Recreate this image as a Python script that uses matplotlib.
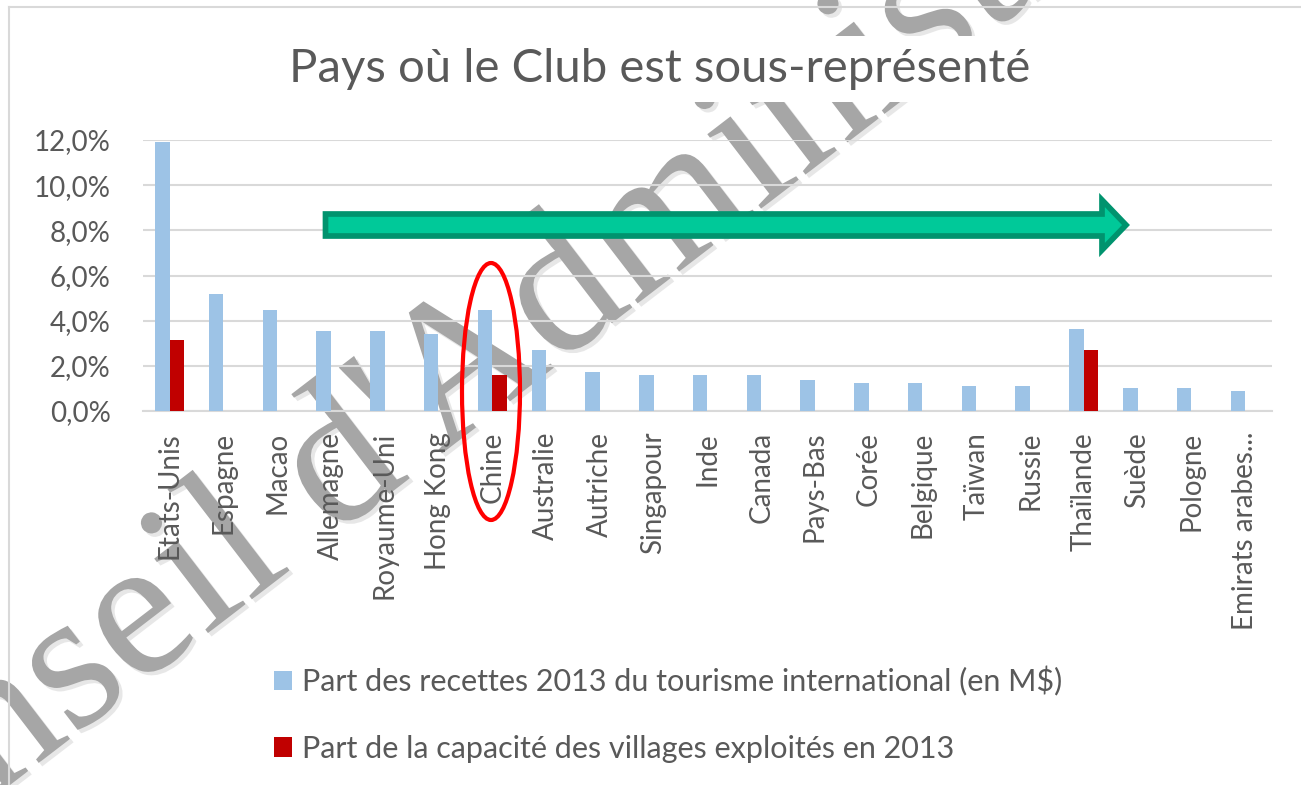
import matplotlib
matplotlib.use("Agg")
import matplotlib.pyplot as plt
import matplotlib.patches as mpatches
import matplotlib.patheffects as pe
from matplotlib.lines import Line2D
import numpy as np

# ---------------- data ----------------
categories = ['Etats-Unis', 'Espagne', 'Macao', 'Allemagne', 'Royaume-Uni', 'Hong Kong',
              'Chine', 'Australie', 'Autriche', 'Singapour', 'Inde', 'Canada', 'Pays-Bas',
              'Corée', 'Belgique', 'Taïwan', 'Russie', 'Thaïlande', 'Suède', 'Pologne',
              'Emirats arabes...']
recettes = [11.9, 5.2, 4.47, 3.53, 3.53, 3.4, 4.47, 2.69, 1.71, 1.59, 1.59, 1.59, 1.36,
            1.24, 1.24, 1.12, 1.12, 3.63, 1.0, 1.0, 0.88]
capacite = [3.15, 0, 0, 0, 0, 0, 1.59, 0, 0, 0, 0, 0, 0,
            0, 0, 0, 0, 2.69, 0, 0, 0]
ytick_values = [0, 2, 4, 6, 8, 10, 12]
ytick_labels = ['0,0%', '2,0%', '4,0%', '6,0%', '8,0%', '10,0%', '12,0%']
series_names = ['Part des recettes 2013 du tourisme international (en M$)',
                'Part de la capacité des villages exploités en 2013']
title = 'Pays où le Club est sous-représenté'
watermark = "Conseil d'Administration"

# ---------------- figure ----------------
W, H = 1301, 785
fig = plt.figure(figsize=(W / 100, H / 100), dpi=100)
fig.patch.set_facecolor('white')

def fx(px):
    return px / W

def fy(py):
    return 1 - py / H

TXT = '#595959'
FONT = 'Lato'

# watermark (background)
fig.text(fx(-192), fy(940), watermark, fontsize=144, family='Liberation Serif',
         color='#A6A6A6', rotation=37.5, rotation_mode='anchor', ha='left', va='baseline',
         zorder=-5,
         path_effects=[pe.SimplePatchShadow(offset=(2.5, -2.5), shadow_rgbFace='#d0d0d0', alpha=0.5),
                       pe.Normal()])

# chart border
fig.add_artist(Line2D([fx(9), fx(9)], [fy(7), 0], color='#D9D9D9', lw=1.5, zorder=1))
fig.add_artist(Line2D([fx(9), 1], [fy(7), fy(7)], color='#D9D9D9', lw=1.5, zorder=1))

ax_left, ax_right, ax_top, ax_bottom = 142.7, 1272, 140, 411
ax = fig.add_axes([fx(ax_left), fy(ax_bottom), fx(ax_right - ax_left), (ax_bottom - ax_top) / H])
ax.set_facecolor('none')

x = np.arange(len(categories))
bw = 0.27
b1 = ax.bar(x - bw / 2, recettes, width=bw, color='#9DC3E6', linewidth=0, zorder=3,
            label=series_names[0])
b2 = ax.bar(x + bw / 2, capacite, width=bw, color='#C00000', linewidth=0, zorder=3,
            label=series_names[1])

ax.set_xlim(-0.5, len(categories) - 0.5)
ax.set_ylim(0, 12)
ax.set_yticks(ytick_values)
ax.set_yticklabels(ytick_labels)
ax.set_xticks(x)
ax.set_xticklabels(categories, rotation=90, ha='center', va='top')
ax.tick_params(axis='both', length=0, colors=TXT)
ax.tick_params(axis='y', pad=23, labelsize=20)
ax.tick_params(axis='x', pad=15, labelsize=20)
for lab in ax.get_xticklabels() + ax.get_yticklabels():
    lab.set_fontfamily(FONT)
    lab.set_color(TXT)
for s in ['top', 'right', 'left']:
    ax.spines[s].set_visible(False)
ax.spines['bottom'].set_color('#D9D9D9')
ax.spines['bottom'].set_linewidth(1.5)
ax.grid(axis='y', color='#D9D9D9', linewidth=1.5, zorder=0)
ax.set_axisbelow(True)

# title
fig.text(fx(660), fy(82), title, ha='center', va='baseline', fontsize=34, color=TXT,
         family=FONT, zorder=5,
         bbox=dict(facecolor='white', edgecolor='none', pad=9))

# legend
leg = ax.legend(handles=[b1, b2], loc='upper left', bbox_to_anchor=(fx(274), fy(666)),
                bbox_transform=fig.transFigure, frameon=False, borderpad=0, borderaxespad=0,
                handlelength=0.6, handleheight=0.6, handletextpad=0.3, labelspacing=1.27,
                prop={'family': FONT, 'size': 22})
for t in leg.get_texts():
    t.set_color(TXT)

# green arrow
arrow_pts = [(325.5, 214), (1102, 214), (1102, 200), (1126, 225), (1102, 250),
             (1102, 236), (325.5, 236)]
arrow = mpatches.Polygon([(fx(a), fy(b)) for a, b in arrow_pts], closed=True,
                         transform=fig.transFigure, facecolor='#00C999', edgecolor='#00936E',
                         linewidth=4.1, joinstyle='miter', zorder=6)
fig.add_artist(arrow)

# red ellipse around Chine
ell = mpatches.Ellipse((fx(491), fy(391.5)), width=58 / W, height=257 / H,
                       transform=fig.transFigure, fill=False, edgecolor='#FF0000',
                       linewidth=3, zorder=6)
fig.add_artist(ell)

fig.savefig('out.png', dpi=100)
